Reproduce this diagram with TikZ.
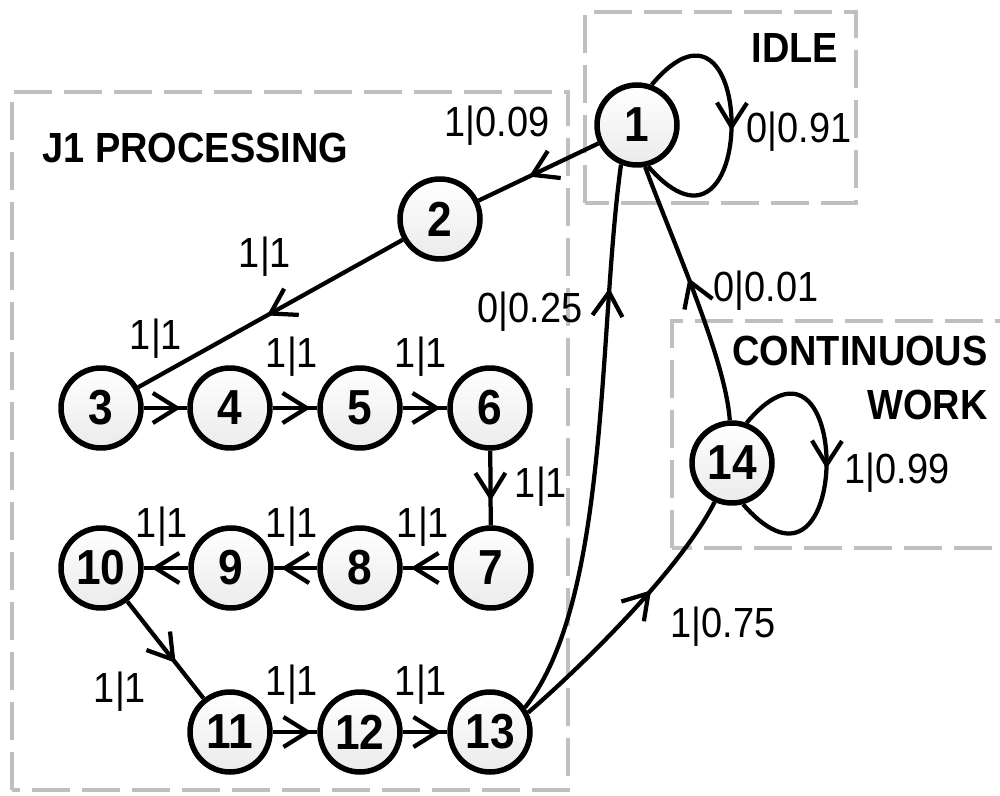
\documentclass[tikz,border=0pt]{standalone}
\usepackage{fontspec}
\setmainfont{Liberation Sans}[FakeStretch=0.9]
\usetikzlibrary{decorations.markings}

\tikzset{
  state/.style={circle, draw, line width=0.11cm, minimum size=1.6cm, inner sep=0pt,
                top color=white, bottom color=black!8,
                font=\fontsize{28}{30}\selectfont\bfseries},
  lbl/.style={anchor=base, inner sep=0pt, font=\fontsize{24}{26}\selectfont},
  zone/.style={draw=black!25, line width=0.08cm, dash pattern=on 0.76cm off 0.24cm},
  zonetitle/.style={inner sep=0pt, font=\fontsize{24}{31}\selectfont\bfseries},
  flow/.style={line width=0.085cm, postaction={decorate},
               decoration={markings, mark=at position #1 with
                 {\draw[line width=0.085cm] (-0.48cm,0.3cm) -- (0,0) -- (-0.48cm,-0.3cm);}}},
  flow/.default=0.5
}

\begin{document}
\begin{tikzpicture}[x=0.02cm, y=0.02cm]
    \useasboundingbox (0,0) rectangle (1000,795);

    % Zones
    \draw[zone] (12,5) rectangle (568,703);
    \draw[zone] (585,592) rectangle (856,783);
    \draw[zone] (672,247) rectangle (1030,474);

    \node[zonetitle, anchor=west] (tproc) at (42,647) {J1 PROCESSING};
    \node[zonetitle] (tidle) at (795,747) {IDLE};
    \node[zonetitle, anchor=east, align=right] (tcont) at (988,417) {CONTINUOUS\\WORK};

    % States
    \node[state] (n1) at (637,670) {1};
    \node[state] (n2) at (440,576) {2};
    \node[state] (n3) at (101,387) {3};
    \node[state] (n4) at (230,387) {4};
    \node[state] (n5) at (360,387) {5};
    \node[state] (n6) at (490,387) {6};
    \node[state] (n7) at (491,227) {7};
    \node[state] (n8) at (360,227) {8};
    \node[state] (n9) at (231,227) {9};
    \node[state] (n10) at (101,227) {10};
    \node[state] (n11) at (230,63) {11};
    \node[state] (n12) at (360,63) {12};
    \node[state] (n13) at (490,63) {13};
    \node[state] (n14) at (732,332) {14};

    % Transitions
    \draw[flow=0.55] (n1) -- (n2);
    \draw[flow] (n2) -- (n3);
    \draw[flow=0.76] (n3) -- (n4);
    \draw[flow=0.76] (n4) -- (n5);
    \draw[flow=0.76] (n5) -- (n6);
    \draw[flow=0.62] (n6) -- (n7);
    \draw[flow=0.74] (n7) -- (n8);
    \draw[flow=0.74] (n8) -- (n9);
    \draw[flow=0.74] (n9) -- (n10);
    \draw[flow=0.6] (n10) -- (n11);
    \draw[flow=0.78] (n11) -- (n12);
    \draw[flow=0.78] (n12) -- (n13);
    \draw[flow=0.77] (n13.35) .. controls +(85,107) and +(-23,-166) .. (n1.-112);
    \draw[flow=0.6] (n13.27) .. controls +(60,52) and +(-33,-65) .. (n14.-114);
    \draw[flow=0.54] (n14.93) .. controls +(-4,61) and +(27,-73) .. (n1.-79);
    \draw[flow] (n1.70) .. controls +(107,127) and +(111,-127) .. (n1.-75);
    \draw[flow] (n14.70) .. controls +(107,127) and +(111,-127) .. (n14.-75);

    % Labels
    \node[lbl] (l12) at (497,658) {1|0.09};
    \node[lbl] (l23) at (265,527) {1|1};
    \node[lbl] (l34) at (156,445) {1|1};
    \node[lbl] (l45) at (292,427) {1|1};
    \node[lbl] (l56) at (421,427) {1|1};
    \node[lbl] (l67) at (541,298) {1|1};
    \node[lbl] (l78) at (423,258) {1|1};
    \node[lbl] (l89) at (292,258) {1|1};
    \node[lbl] (l910) at (162,258) {1|1};
    \node[lbl] (l1011) at (120,93) {1|1};
    \node[lbl] (l1112) at (292,100) {1|1};
    \node[lbl] (l1213) at (421,100) {1|1};
    \node[lbl] (l131) at (530,472) {0|0.25};
    \node[lbl] (l141) at (766,493) {0|0.01};
    \node[lbl] (l1314) at (723,158) {1|0.75};
    \node[lbl] (l11) at (799,652) {0|0.91};
    \node[lbl] (l1414) at (897,312) {1|0.99};
\end{tikzpicture}
\end{document}
